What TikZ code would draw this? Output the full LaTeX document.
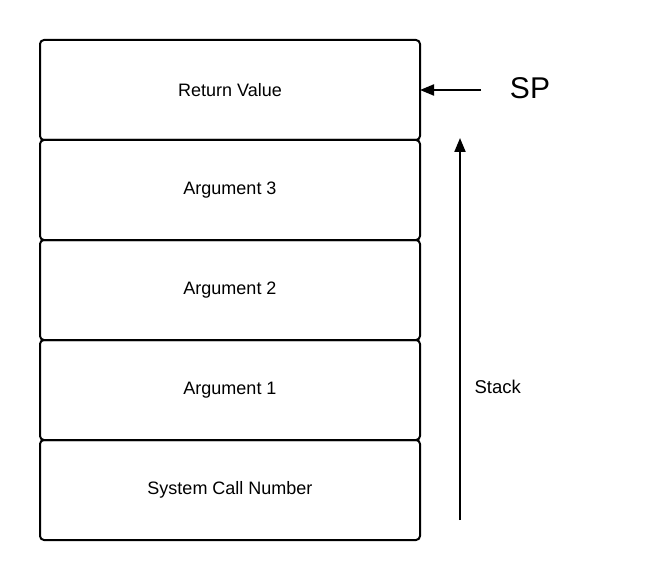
\documentclass[tikz,border=0pt]{standalone}
\usepackage{fontspec}
\setmainfont{Liberation Sans}
\usetikzlibrary{arrows.meta}
\begin{document}
\begin{tikzpicture}[x=1pt,y=-1pt,
  cell/.style={draw,line width=2pt,rounded corners=4pt,minimum width=380pt,minimum height=100pt,inner sep=0pt,outer sep=0pt,font=\fontsize{18}{20}\selectfont,anchor=north west},
  arr/.style={line width=2pt,-{Triangle[length=14pt,width=11pt]}}]
\useasboundingbox (0,0) rectangle (660,580);
\node[cell] (rv) at (40,40) {Return Value};
\node[cell] (a3) at (40,140) {Argument 3};
\node[cell] (a2) at (40,240) {Argument 2};
\node[cell] (a1) at (40,340) {Argument 1};
\node[cell] (sc) at (40,440) {System Call Number};
\node[font=\fontsize{30}{32}\selectfont] (sp) at (530,88) {SP};
\coordinate (spstart) at (481,90);
\draw[arr] (spstart) -- (rv.east |- spstart);
\coordinate (stbot) at (460,520);
\coordinate (sttop) at (460,138);
\draw[arr] (stbot) -- (sttop);
\node[font=\fontsize{18.5}{20}\selectfont,anchor=west] (stack) at (471,387) {Stack};
\end{tikzpicture}
\end{document}
